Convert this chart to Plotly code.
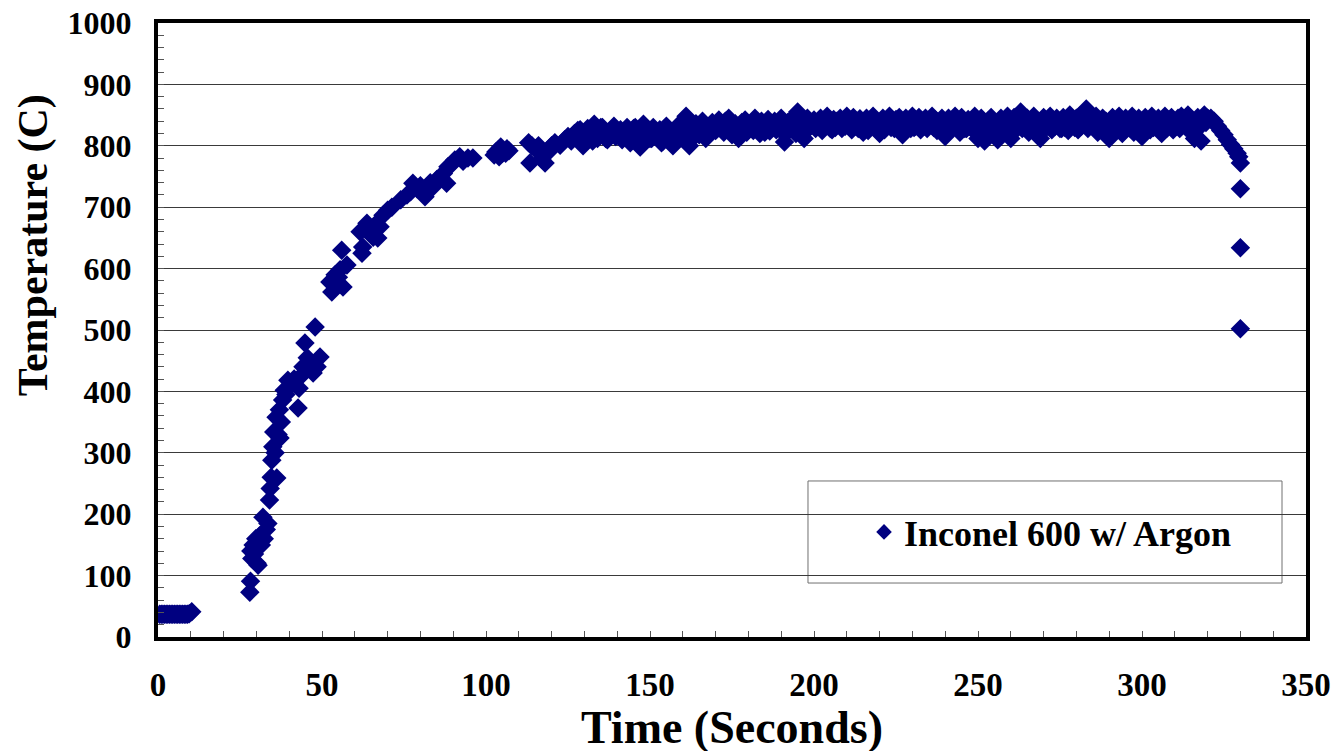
import plotly.graph_objects as go

# ---------------- data ----------------
t_idle = [0.5, 1, 1.5, 2, 2.5, 3, 3.5, 4, 4.5, 5, 5.5, 6, 6.5, 7, 7.5, 8, 8.5, 9, 9.5, 10.3]
T_idle = [37, 37, 37, 37, 37, 37, 37, 37, 37, 37, 37, 37, 37, 37, 37, 37, 37, 37, 38, 41]

t_rise = [28.0, 28.2, 28.3, 28.6, 29.0, 29.4, 29.8, 30.2, 30.5, 31.0, 31.5, 32.0, 32.4, 33.0,
          33.5, 34.0, 34.2, 34.5, 34.7, 35.0, 35.3, 35.7, 36.0, 36.2, 36.6, 37.0, 37.2, 37.6,
          38.0, 38.5, 39.0, 39.6, 40.5, 41.5, 42.7, 43.0, 43.6, 44.2, 44.8, 45.5, 46.5, 47.3,
          47.9, 48.5, 49.4]
T_rise = [73, 91, 140, 128, 150, 135, 160, 120, 117, 165, 150, 195, 160, 175,
          185, 223, 242, 260, 288, 310, 334, 300, 358, 259, 330, 370, 324, 350,
          386, 402, 395, 418, 410, 420, 373, 405, 425, 440, 479, 455, 445, 430,
          505, 440, 456]

t_climb = [52.4, 53.0, 54.0, 55.0, 55.5, 56.0, 56.4, 57.6, 61.6, 62.2, 62.4, 63.0, 63.7, 64.5,
           65.6, 66.0, 67.0, 67.7, 68.6, 70.0, 71.3, 74.0, 75.9, 77.0, 77.7, 79.0, 80.0, 81.4,
           82.0, 83.0, 83.8, 85.0, 86.0, 87.0, 88.0, 88.4, 89.5, 90.5, 92.0, 93.0, 94.5, 96.0,
           102.5, 103.0, 103.7, 104.0, 104.5, 105.0, 106.0, 106.4, 107.0, 113.0, 113.4, 114.0,
           115.0, 116.0, 117.0, 118.0, 119.0, 120.0, 121.0, 122.6, 124.0, 125.0, 126.0, 127.0,
           128.0, 128.7, 129.6, 130.0]
T_climb = [578, 562, 590, 586, 598, 630, 570, 606, 660, 625, 635, 665, 674, 665,
           651, 670, 650, 668, 687, 695, 700, 712, 720, 725, 739, 730, 735, 717,
           728, 740, 733, 745, 749, 755, 739, 766, 770, 777, 782, 775, 780, 780,
           785, 790, 793, 782, 798, 788, 788, 795, 792, 805, 772, 800,
           795, 800, 778, 772, 790, 800, 805, 801, 810, 815, 808, 820,
           825, 826, 800, 815]

# plateau, whole seconds
t_plateau = list(range(131, 321))
T_plateau = [828, 820, 835, 812, 830, 822, 810, 825, 832, 818,
             826, 815, 830, 805, 828, 820, 798, 835, 824, 812,
             830, 818, 826, 808, 832, 815, 800, 822, 835, 812,
             848, 800, 828, 836, 818, 840, 812, 830, 838, 825,
             842, 832, 840, 845, 818, 836, 812, 838, 842, 830,
             835, 845, 828, 840, 822, 843, 835, 840, 830, 845,
             806, 838, 842, 828, 855, 840, 812, 845, 836, 842,
             838, 845, 832, 848, 828, 843, 840, 845, 835, 848,
             840, 846, 832, 844, 822, 845, 840, 848, 835, 820,
             845, 840, 848, 835, 843, 846, 818, 845, 840, 848,
             832, 846, 840, 845, 835, 848, 842, 838, 845, 815,
             845, 840, 848, 836, 846, 828, 843, 840, 848, 812,
             845, 808, 840, 846, 830, 810, 845, 838, 848, 812,
             846, 840, 855, 842, 845, 835, 848, 840, 812, 846,
             840, 848, 838, 845, 828, 846, 840, 850, 838, 845,
             848, 842, 860, 846, 840, 848, 836, 845, 840, 812,
             846, 838, 848, 820, 845, 840, 848, 836, 845, 815,
             846, 840, 848, 838, 845, 820, 848, 842, 846, 838,
             845, 848, 840, 850, 842, 812, 846, 808, 850, 845]

# plateau, half seconds
t_plateau_half = [s + 0.5 for s in range(130, 320)]
T_plateau_half = [815, 825, 808, 822, 818, 830, 812, 820, 826, 815,
                  820, 810, 825, 818, 812, 830, 808, 822, 815, 826,
                  812, 824, 818, 805, 828, 815, 822, 810, 826, 818,
                  825, 818, 832, 815, 828, 822, 835, 818, 826, 832,
                  828, 836, 822, 830, 825, 832, 820, 828, 835, 822,
                  830, 825, 834, 820, 828, 836, 824, 830, 826, 834,
                  822, 830, 826, 835, 820, 828, 832, 824, 830, 836,
                  828, 834, 825, 832, 838, 826, 830, 835, 828, 832,
                  835, 826, 832, 828, 836, 830, 825, 834, 830, 828,
                  832, 826, 836, 830, 828, 834, 825, 832, 836, 828,
                  830, 835, 826, 832, 828, 836, 830, 825, 834, 828,
                  832, 826, 836, 830, 822, 834, 828, 832, 826, 830,
                  825, 832, 820, 834, 828, 822, 836, 826, 830, 824,
                  832, 826, 836, 828, 830, 822, 834, 828, 825, 832,
                  828, 834, 826, 832, 836, 828, 830, 825, 834, 830,
                  826, 832, 836, 828, 834, 830, 822, 832, 828, 826,
                  832, 825, 830, 834, 826, 832, 828, 822, 834, 830,
                  828, 834, 826, 830, 836, 825, 832, 828, 834, 826,
                  832, 828, 836, 830, 826, 834, 828, 832, 836, 838]

t_cool = [321, 322, 323, 324, 325, 326, 327, 328, 329, 329.5, 330, 330, 330, 330]
T_cool = [845, 840, 832, 825, 818, 810, 802, 795, 788, 782, 772, 730, 634, 502]

series_name = "Inconel 600 w/ Argon"
x_title = "Time (Seconds)"
y_title = "Temperature (C)"

time_s = t_idle + t_rise + t_climb + t_plateau + t_plateau_half + t_cool
temp_c = T_idle + T_rise + T_climb + T_plateau + T_plateau_half + T_cool

# ---------------- figure ----------------
FONT = "Liberation Serif"
NAVY = "#000080"

fig = go.Figure()
fig.add_trace(go.Scatter(
    x=time_s, y=temp_c, mode="markers", name=series_name,
    marker=dict(symbol="diamond", size=15, color=NAVY, line=dict(width=0)),
))

# the page body has an 8px default margin: compensate in the figure margins
fig.update_layout(
    width=1340, height=751,
    margin=dict(l=150, r=42, t=15, b=122, autoexpand=False),
    paper_bgcolor="white", plot_bgcolor="white",
    font=dict(family=FONT, color="black", weight="bold"),
    showlegend=True,
    legend=dict(x=0.615, y=0.171, xanchor="left", yanchor="middle",
                bgcolor="rgba(0,0,0,0)", borderwidth=0, itemsizing="constant",
                font=dict(family=FONT, size=36, color="black", weight="bold")),
)

fig.update_xaxes(
    range=[0, 350], tick0=0, dtick=50, automargin=False,
    showline=True, linewidth=4, linecolor="black", mirror=True,
    showgrid=False, zeroline=False,
    ticks="inside", ticklen=6, tickwidth=1, tickcolor="#555",
    minor=dict(dtick=10, ticks="inside", ticklen=6, tickcolor="#555", showgrid=False),
    tickfont=dict(family=FONT, size=33, color="black", weight="bold"),
    ticklabelstandoff=15, ticklabeloverflow="allow",
)
fig.update_yaxes(
    range=[0, 1000], tick0=0, dtick=100, automargin=False,
    showline=True, linewidth=4, linecolor="black", mirror=True,
    showgrid=True, gridcolor="#3a3a3a", gridwidth=1, zeroline=False,
    ticks="inside", ticklen=6, tickwidth=1, tickcolor="#555",
    minor=dict(dtick=20, ticks="inside", ticklen=6, tickcolor="#555", showgrid=False),
    tickfont=dict(family=FONT, size=32, color="black", weight="bold"),
    ticklabelstandoff=16, ticklabeloverflow="allow",
)

# legend frame
fig.add_shape(type="rect", xref="paper", yref="paper",
              x0=0.5662, x1=0.9791, y0=0.0879, y1=0.2541,
              line=dict(color="#707070", width=1), fillcolor="white", layer="below")

# axis titles
fig.add_annotation(text=y_title, xref="paper", yref="paper",
                   x=-0.1089, y=0.638, textangle=-90, showarrow=False,
                   xanchor="center", yanchor="middle",
                   font=dict(family=FONT, size=42, color="black", weight="bold"))
fig.add_annotation(text=x_title, xref="paper", yref="paper",
                   x=0.5, y=-0.147, showarrow=False,
                   xanchor="center", yanchor="middle",
                   font=dict(family=FONT, size=46, color="black", weight="bold"))

fig.write_html("out.html")
